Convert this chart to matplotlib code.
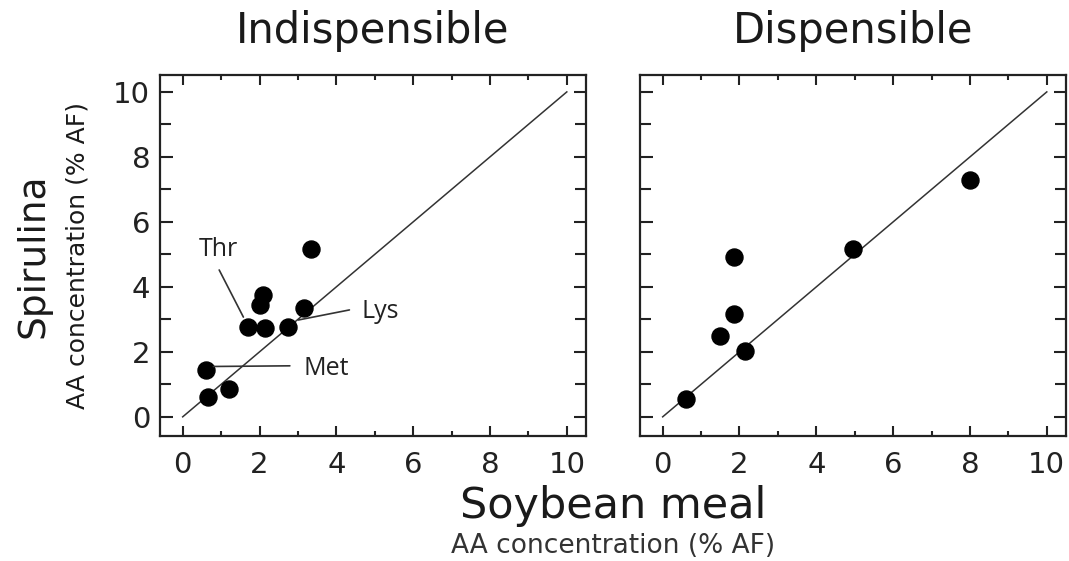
import matplotlib
matplotlib.use("Agg")
import matplotlib.pyplot as plt
from matplotlib.ticker import MultipleLocator

# amino acid concentrations, % as-fed (soybean meal on x, spirulina on y)
indisp_sbm = [3.35, 2.1, 2.0, 1.7, 2.15, 2.75, 3.15, 0.6, 1.2, 0.65]
indisp_spir = [5.15, 3.75, 3.45, 2.75, 2.72, 2.78, 3.35, 1.45, 0.85, 0.62]
disp_sbm = [8.0, 4.95, 1.85, 1.85, 1.5, 2.15, 0.6]
disp_spir = [7.3, 5.15, 4.92, 3.15, 2.5, 2.03, 0.55]

# labelled amino acids: name, text position, line start, line end
callouts = [
    ("Thr", (0.93, 4.95), (0.95, 4.52), (1.58, 3.07)),
    ("Lys", (4.66, 3.04), (4.34, 3.29), (3.01, 2.98)),
    ("Met", (3.14, 1.29), (2.79, 1.57), (0.80, 1.55)),
]

unity = [0, 10]
ticks = [0, 2, 4, 6, 8, 10]

plt.rcParams['font.family'] = ['DejaVu Sans']

fig = plt.figure(figsize=(10.69, 5.61), dpi=100)
ax1 = fig.add_axes([0.1497, 0.2228, 0.3985, 0.6435])
ax2 = fig.add_axes([0.5987, 0.2228, 0.3985, 0.6435])


def style(ax, title):
    ax.set_xlim(-0.59, 10.5)
    ax.set_ylim(-0.59, 10.52)
    ax.set_xticks(ticks)
    ax.set_yticks(ticks)
    ax.xaxis.set_minor_locator(MultipleLocator(1))
    ax.yaxis.set_minor_locator(MultipleLocator(1))
    ax.tick_params(which='both', direction='in', top=True, right=True,
                   width=1.5, color='#222', labelsize=21, labelcolor='#222')
    ax.tick_params(axis='x', which='major', length=7, pad=11)
    ax.tick_params(axis='x', which='minor', length=3.5)
    ax.tick_params(axis='y', which='major', length=9, pad=7)
    ax.tick_params(axis='y', which='minor', length=8)
    for s in ax.spines.values():
        s.set_linewidth(1.6)
        s.set_color('#222')
    ax.set_title(title, fontsize=30, pad=23, color='#1a1a1a')
    ax.plot(unity, unity, color='#333', lw=1.1, zorder=1)


style(ax1, "Indispensible")
style(ax2, "Dispensible")
ax2.tick_params(axis='y', labelleft=False)

ax1.scatter(indisp_sbm, indisp_spir, s=150, color='black', zorder=3)
ax2.scatter(disp_sbm, disp_spir, s=150, color='black', zorder=3)

for name, txt, start, end in callouts:
    ax1.text(txt[0], txt[1], name, fontsize=18, family='Open Sans',
             ha='center' if name == "Thr" else 'left', va='baseline',
             color='#222')
    ax1.annotate('', xy=end, xytext=start,
                 arrowprops=dict(arrowstyle='-', color='#333', lw=1.2,
                                 shrinkA=0, shrinkB=0))

fig.text(0.0318, 0.5446, "Spirulina", rotation=90, fontsize=27,
         ha='center', va='center', color='#1a1a1a')
fig.text(0.0725, 0.5446, "AA concentration (% AF)", rotation=90,
         fontsize=18, ha='center', va='center', color='#1a1a1a')
fig.text(0.5735, 0.0761, "Soybean meal", fontsize=31, ha='center',
         va='baseline', color='#1a1a1a')
fig.text(0.5735, 0.004, "AA concentration (% AF)", fontsize=19,
         ha='center', va='bottom', color='#333')

fig.savefig("out.png", dpi=100)
